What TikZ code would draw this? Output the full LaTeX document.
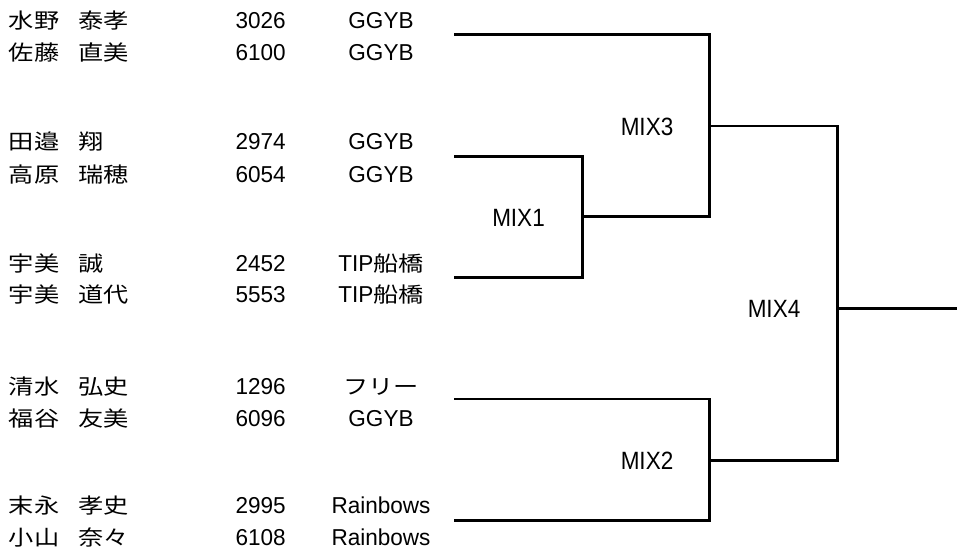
\documentclass[tikz,border=0pt]{standalone}
\usepackage{fontspec}
\setmainfont{Liberation Sans}
\newfontfamily\cjk{Noto Sans CJK JP}
\newcommand\jpn[1]{\scalebox{1.2}[1]{\fontsize{21}{21}\cjk #1}}
\newcommand\lat[1]{\scalebox{0.98}[1]{\fontsize{23}{23}\selectfont #1}}
\newcommand\mixl[1]{\scalebox{0.9}[1]{\fontsize{25}{25}\selectfont #1}}
\newcommand\entry[6]{%
  \node[txt,anchor=base west] (f#1) at (9,#2+8) {\jpn{#3}};
  \node[txt,anchor=base west] (g#1) at (78.5,#2+8) {\jpn{#4}};
  \node[txt,anchor=base west] (n#1) at (235.5,#2+8) {\lat{#5}};
  \node[txt,anchor=base] (t#1) at (381,#2+8) {#6};
}
\begin{document}
\begin{tikzpicture}[x=1pt,y=-1pt,
  txt/.style={inner sep=0pt,outer sep=0pt},
  mixlabel/.style={inner sep=0pt,outer sep=0pt,anchor=base},
  bracket/.style={line width=2.8pt,line join=miter,line cap=butt}]
\useasboundingbox (0,0) rectangle (957,555);
\fill[white] (0,0) rectangle (957,555);

\entry{1}{20.3}{水野}{泰孝}{3026}{\lat{GGYB}}
\entry{2}{52}{佐藤}{直美}{6100}{\lat{GGYB}}
\entry{3}{141}{田邉}{翔}{2974}{\lat{GGYB}}
\entry{4}{174}{高原}{瑞穂}{6054}{\lat{GGYB}}
\entry{5}{263.5}{宇美}{誠}{2452}{\lat{TIP}\jpn{船橋}}
\entry{6}{294}{宇美}{道代}{5553}{\lat{TIP}\jpn{船橋}}
\entry{7}{386}{清水}{弘史}{1296}{\jpn{フリー}}
\entry{8}{418}{福谷}{友美}{6096}{\lat{GGYB}}
\entry{9}{505}{末永}{孝史}{2995}{\lat{Rainbows}}
\entry{10}{537}{小山}{奈々}{6108}{\lat{Rainbows}}

% bracket entry points
\coordinate (e1) at (454,34.5);
\coordinate (e2) at (454,156.3);
\coordinate (e3) at (454,277.2);
\coordinate (e4) at (454,399);
\coordinate (e5) at (454,520.8);
% junctions
\coordinate (m1) at (582.3,216.8);
\coordinate (m3) at (709.7,126);
\coordinate (m2) at (709.7,460.3);
\coordinate (m4) at (837.2,308.3);
\coordinate (fin) at (957,308.3);

\node[mixlabel] (l1) at (518.5,226.5) {\mixl{MIX1}};
\node[mixlabel] (l3) at (647,135) {\mixl{MIX3}};
\node[mixlabel] (l2) at (647,469) {\mixl{MIX2}};
\node[mixlabel] (l4) at (774,317) {\mixl{MIX4}};

\draw[bracket] (e2) -| (m1) |- (e3);
\draw[bracket] (e1) -| (m3) |- (m1);
\draw[bracket] (e4) -| (m2) |- (e5);
\draw[bracket] (m3) -| (m4) |- (m2);
\draw[bracket] (m4) -- (fin);
\end{tikzpicture}
\end{document}
